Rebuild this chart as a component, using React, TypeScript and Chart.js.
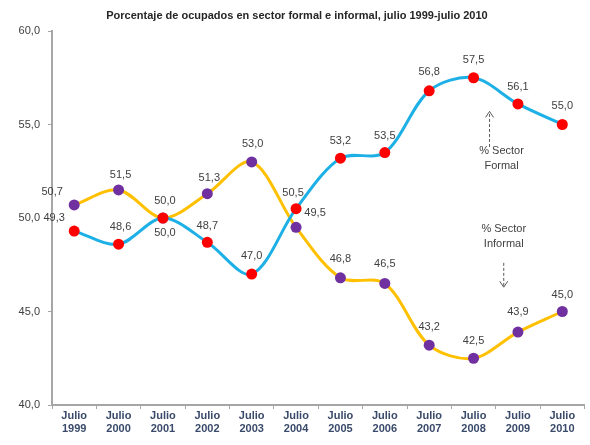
import React, { useEffect, useRef } from "react";
import { Chart, registerables } from "chart.js";

Chart.register(...registerables);

const categories = ["1999", "2000", "2001", "2002", "2003", "2004", "2005", "2006", "2007", "2008", "2009", "2010"];
const formalValues = [49.3, 48.6, 50.0, 48.7, 47.0, 50.5, 53.2, 53.5, 56.8, 57.5, 56.1, 55.0];
const informalValues = [50.7, 51.5, 50.0, 51.3, 53.0, 49.5, 46.8, 46.5, 43.2, 42.5, 43.9, 45.0];
const yTicks = [40, 45, 50, 55, 60];
const titleText = "Porcentaje de ocupados en sector formal e informal, julio 1999-julio 2010";

// label placement per point: [dx, dy] offsets from the point in pixels
const formalLabelOffsets: [number, number][] = [
  [-20, -13], [2, -17], [2, 15], [0, -16], [0, -18], [-3, -16],
  [0, -17], [0, -17], [0, -19], [0, -18], [0, -17], [0, -19],
];
const informalLabelOffsets: [number, number][] = [
  [-22, -13], [2, -15], [2, -17], [2, -16], [1, -18], [19, -14],
  [0, -19], [0, -19], [0, -18], [0, -17], [0, -20], [0, -17],
];

const fmt = (v: number) => v.toFixed(1).replace(".", ",");

const FONT = "'Liberation Sans', Arial, sans-serif";

const overlayPlugin = {
  id: "overlay",
  afterDatasetsDraw(chart: any) {
    const ctx = chart.ctx;
    const xs = chart.scales.x;
    const ys = chart.scales.y;
    ctx.save();
    // title
    ctx.font = `bold 11px ${FONT}`;
    ctx.fillStyle = "#262626";
    ctx.textAlign = "center";
    ctx.textBaseline = "middle";
    ctx.fillText(titleText, 297, 16);

    // data labels
    ctx.font = `11px ${FONT}`;
    ctx.fillStyle = "#404040";
    const drawLabels = (dsIndex: number, values: number[], offs: [number, number][]) => {
      const meta = chart.getDatasetMeta(dsIndex);
      meta.data.forEach((pt: any, i: number) => {
        ctx.fillText(fmt(values[i]), pt.x + offs[i][0], pt.y + offs[i][1]);
      });
    };
    drawLabels(0, formalValues, formalLabelOffsets);
    drawLabels(1, informalValues, informalLabelOffsets);

    // annotations
    const arrow = (x: number, y1: number, y2: number) => {
      ctx.strokeStyle = "#595959";
      ctx.lineWidth = 1;
      ctx.setLineDash([3, 2]);
      ctx.beginPath();
      ctx.moveTo(x, y1);
      ctx.lineTo(x, y2);
      ctx.stroke();
      ctx.setLineDash([]);
      const dir = y2 < y1 ? 1 : -1;
      ctx.beginPath();
      ctx.moveTo(x - 4, y2 + dir * 6);
      ctx.lineTo(x, y2);
      ctx.lineTo(x + 4, y2 + dir * 6);
      ctx.stroke();
    };
    const fx = xs.getPixelForValue(9.36);
    arrow(fx, ys.getPixelForValue(53.8), ys.getPixelForValue(55.7));
    ctx.fillStyle = "#404040";
    const ftx = xs.getPixelForValue(9.63);
    ctx.fillText("% Sector", ftx, ys.getPixelForValue(53.6));
    ctx.fillText("Formal", ftx, ys.getPixelForValue(52.8));

    const ix = xs.getPixelForValue(9.68);
    ctx.fillText("% Sector", ix, ys.getPixelForValue(49.4));
    ctx.fillText("Informal", ix, ys.getPixelForValue(48.6));
    arrow(ix, ys.getPixelForValue(47.6), ys.getPixelForValue(46.3));
    ctx.restore();
  },
};

export default function App() {
  const ref = useRef<HTMLCanvasElement | null>(null);
  useEffect(() => {
    if (!ref.current) return;
    const chart = new Chart(ref.current, {
      type: "line",
      data: {
        labels: categories.map((c) => ["Julio", c]),
        datasets: [
          {
            label: "% Sector Formal",
            data: formalValues,
            borderColor: "#1CB0E6",
            backgroundColor: "#FF0000",
            borderWidth: 3,
            pointRadius: 5.5,
            pointBackgroundColor: "#FF0000",
            pointBorderColor: "#FF0000",
            pointBorderWidth: 0,
            tension: 0.32,
          },
          {
            label: "% Sector Informal",
            data: informalValues,
            borderColor: "#FFC000",
            backgroundColor: "#7030A0",
            borderWidth: 3,
            pointRadius: 5.5,
            pointBackgroundColor: "#7030A0",
            pointBorderColor: "#7030A0",
            pointBorderWidth: 0,
            tension: 0.32,
          },
        ],
      },
      options: {
        animation: false,
        responsive: false,
        layout: { padding: { top: 31, right: 5, left: 0, bottom: 0 } },
        plugins: { legend: { display: false }, title: { display: false }, tooltip: { enabled: false } },
        scales: {
          x: {
            offset: true,
            grid: { offset: true, drawOnChartArea: false, tickLength: 4, color: "#a6a6a6" },
            border: { color: "#a6a6a6", width: 2 },
            ticks: {
              font: { family: FONT, size: 11, weight: "bold" },
              color: "#3a4a6a",
              maxRotation: 0,
              autoSkip: false,
              padding: 0,
            },
            afterFit: (s: any) => { s.height = 40; },
          },
          y: {
            min: 40,
            max: 60,
            afterBuildTicks: (s: any) => { s.ticks = yTicks.map((v) => ({ value: v })); },
            grid: { drawOnChartArea: false, tickLength: 4, color: "#a6a6a6" },
            border: { color: "#a6a6a6", width: 2 },
            ticks: {
              font: { family: FONT, size: 11 },
              color: "#404040",
              padding: 8,
              callback: (v: any) => fmt(Number(v)),
            },
            afterFit: (s: any) => { s.width = 52; },
          },
        },
      },
      plugins: [overlayPlugin],
    } as any);
    return () => chart.destroy();
  }, []);
  return (
    <div style={{ position: "fixed", left: 0, top: 0, width: 590, height: 445, background: "#fff" }}>
      <canvas ref={ref} width={590} height={445} style={{ width: 590, height: 445 }} />
    </div>
  );
}
